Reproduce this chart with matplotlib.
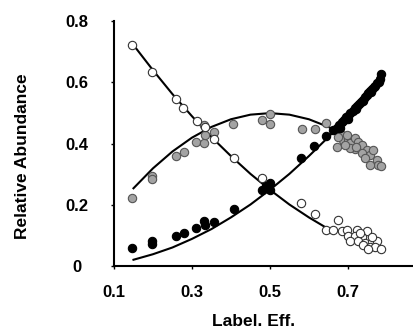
import matplotlib
matplotlib.use("Agg")
import matplotlib.pyplot as plt

plt.rcParams['font.family'] = ['Liberation Sans', 'DejaVu Sans']

# Unlabeled fraction (open circles)
white_x = [0.146, 0.197, 0.259, 0.278, 0.312, 0.333, 0.356, 0.408, 0.479,
           0.579, 0.615, 0.674, 0.644, 0.662, 0.684, 0.697, 0.724, 0.748,
           0.701, 0.718, 0.735, 0.705, 0.726, 0.744, 0.761, 0.774, 0.739,
           0.756, 0.769, 0.786, 0.752, 0.731, 0.761]
white_y = [0.721, 0.635, 0.545, 0.516, 0.474, 0.455, 0.417, 0.355, 0.287,
           0.206, 0.172, 0.153, 0.119, 0.119, 0.115, 0.119, 0.119, 0.116,
           0.099, 0.099, 0.095, 0.084, 0.084, 0.077, 0.081, 0.084, 0.070,
           0.064, 0.064, 0.058, 0.056, 0.108, 0.095]

# Half-labeled fraction (grey circles)
gray_x = [0.145, 0.197, 0.198, 0.259, 0.279, 0.310, 0.332, 0.333, 0.356,
          0.331, 0.406, 0.479, 0.500, 0.500, 0.581, 0.615, 0.645,
          0.671, 0.684, 0.688, 0.701, 0.705, 0.718, 0.726, 0.718, 0.736,
          0.748, 0.735, 0.756, 0.765, 0.744, 0.774, 0.777, 0.786, 0.756,
          0.705, 0.692, 0.675, 0.697, 0.722]
gray_y = [0.224, 0.294, 0.285, 0.359, 0.373, 0.406, 0.403, 0.428, 0.438,
          0.460, 0.463, 0.476, 0.498, 0.463, 0.449, 0.449, 0.468,
          0.390, 0.428, 0.411, 0.417, 0.401, 0.418, 0.406, 0.384, 0.395,
          0.379, 0.369, 0.363, 0.379, 0.353, 0.346, 0.330, 0.327, 0.330,
          0.385, 0.395, 0.422, 0.428, 0.390]

# Fully labeled fraction (filled circles)
black_x = [0.145, 0.197, 0.198, 0.259, 0.279, 0.310, 0.332, 0.333, 0.356,
           0.408, 0.479, 0.490, 0.500, 0.500, 0.579, 0.614, 0.645, 0.662,
           0.671, 0.678, 0.684, 0.690, 0.696, 0.701, 0.706, 0.712, 0.718,
           0.723, 0.728, 0.733, 0.738, 0.743, 0.748, 0.752, 0.757, 0.762,
           0.766, 0.770, 0.775, 0.779, 0.783, 0.786, 0.680, 0.700, 0.720,
           0.740, 0.760]
black_y = [0.059, 0.084, 0.072, 0.099, 0.110, 0.127, 0.149, 0.135, 0.146,
           0.186, 0.251, 0.262, 0.273, 0.251, 0.355, 0.392, 0.424, 0.444,
           0.452, 0.462, 0.470, 0.478, 0.486, 0.492, 0.500, 0.508, 0.516,
           0.522, 0.530, 0.537, 0.544, 0.551, 0.558, 0.564, 0.571, 0.578,
           0.584, 0.590, 0.597, 0.603, 0.611, 0.626, 0.452, 0.482, 0.512,
           0.540, 0.570]

# Expected abundance curves
curve_x = [0.15, 0.20, 0.25, 0.30, 0.35, 0.40, 0.45, 0.50, 0.55, 0.60, 0.645]
white_curve = [0.722, 0.640, 0.562, 0.490, 0.422, 0.360, 0.302, 0.250, 0.202, 0.160, 0.126]

gray_curve_x = [0.15, 0.20, 0.25, 0.30, 0.35, 0.40, 0.45, 0.50, 0.55, 0.60, 0.65, 0.67]
gray_curve = [0.255, 0.320, 0.375, 0.420, 0.455, 0.480, 0.495, 0.500, 0.495, 0.480, 0.455, 0.442]

black_curve_x = [0.15, 0.20, 0.25, 0.30, 0.35, 0.40, 0.45, 0.50, 0.55, 0.60, 0.65, 0.70, 0.75, 0.79]
black_curve = [0.022, 0.040, 0.062, 0.090, 0.122, 0.160, 0.202, 0.250, 0.302, 0.360, 0.422, 0.490, 0.562, 0.624]

x_ticks = [0.1, 0.3, 0.5, 0.7]
x_tick_labels = ['0.1', '0.3', '0.5', '0.7']
y_ticks = [0, 0.2, 0.4, 0.6, 0.8]
y_tick_labels = ['0', '0.2', '0.4', '0.6', '0.8']

fig = plt.figure(figsize=(4.13, 3.35), dpi=100)
ax = fig.add_axes([0.276, 0.2045, 0.724, 0.7325])

line_kw = dict(color='black', lw=1.5, zorder=2)
ax.plot(curve_x, white_curve, **line_kw)
ax.plot(gray_curve_x, gray_curve, **line_kw)
ax.plot(black_curve_x, black_curve, **line_kw)

ms = 6.0
ax.plot(gray_x, gray_y, 'o', ms=ms, mfc='#a3a3a3', mec='#555555', mew=0.8, zorder=3)
ax.plot(white_x, white_y, 'o', ms=ms, mfc='white', mec='#333333', mew=0.8, zorder=4)
ax.plot(black_x, black_y, 'o', ms=ms, mfc='black', mec='black', mew=0.8, zorder=5)

ax.set_xlim(0.1, 0.867)
ax.set_ylim(0, 0.8)
ax.set_xticks(x_ticks)
ax.set_xticklabels(x_tick_labels)
ax.set_yticks(y_ticks)
ax.set_yticklabels(y_tick_labels)

for s in ['top', 'right']:
    ax.spines[s].set_visible(False)
for s in ['left', 'bottom']:
    ax.spines[s].set_linewidth(1.5)

ax.tick_params(axis='both', direction='out', length=2, width=1, labelsize=12)
ax.tick_params(axis='y', pad=25)
ax.tick_params(axis='x', pad=11)
for lab in ax.get_xticklabels() + ax.get_yticklabels():
    lab.set_fontweight('bold')
for lab in ax.get_yticklabels():
    lab.set_horizontalalignment('center')

fig.text(23 / 413, 1 - 156 / 335, 'Relative Abundance', rotation=90,
         ha='center', va='center', fontsize=12.5, fontweight='bold')
fig.text(254 / 413, 1 - 322 / 335, 'Label. Eff.', ha='center', va='center',
         fontsize=12.5, fontweight='bold')

fig.savefig('out.png', dpi=100)
